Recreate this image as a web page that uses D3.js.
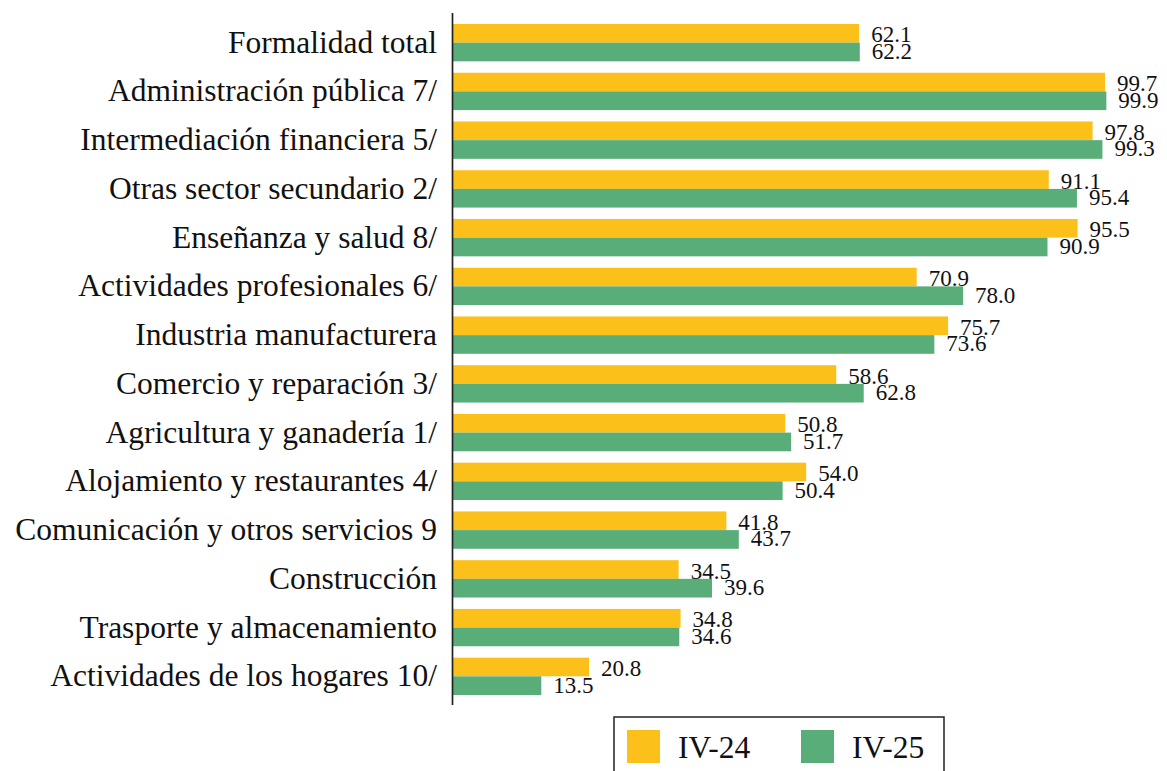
<!DOCTYPE html>
<html>
<head>
<meta charset="utf-8">
<script src="https://cdn.jsdelivr.net/npm/d3@7"></script>
<style>
  body { margin: 0; background: #fff; }
  svg { display: block; font-family: "Liberation Serif", "Times New Roman", serif; }
</style>
</head>
<body>
<div id="chart"></div>
<script>
const categories = [
  "Formalidad total",
  "Administración pública 7/",
  "Intermediación financiera 5/",
  "Otras sector secundario 2/",
  "Enseñanza y salud 8/",
  "Actividades profesionales 6/",
  "Industria manufacturera",
  "Comercio y reparación 3/",
  "Agricultura y ganadería 1/",
  "Alojamiento y restaurantes 4/",
  "Comunicación y otros servicios 9",
  "Construcción",
  "Trasporte y almacenamiento",
  "Actividades de los hogares 10/"
]
const seriesNames = ["IV-24", "IV-25"]
const iv24 = [62.1, 99.7, 97.8, 91.1, 95.5, 70.9, 75.7, 58.6, 50.8, 54.0, 41.8, 34.5, 34.8, 20.8]
const iv25 = [62.2, 99.9, 99.3, 95.4, 90.9, 78.0, 73.6, 62.8, 51.7, 50.4, 43.7, 39.6, 34.6, 13.5]
const colors = ["#FBC11A", "#58AD79"]

const width = 1167, height = 771
const svg = d3.select('#chart').append('svg')
  .attr('width', width)
  .attr('height', height)

const x = d3.scaleLinear().domain([0, 100]).range([453, 1107])
const y = d3.scaleBand().domain(categories).range([18.3, 700.7])
  .paddingInner(0.234).paddingOuter(0.117)
const sub = d3.scaleBand().domain(seriesNames).range([0, y.bandwidth()])

const rows = categories.map((c, i) => ({ cat: c, vals: [iv24[i], iv25[i]] }))

const g = svg.append('g')
rows.forEach(r => {
  r.vals.forEach((v, k) => {
    const yy = y(r.cat) + sub(seriesNames[k])
    g.append('rect')
      .attr('x', x(0))
      .attr('y', yy)
      .attr('width', x(v) - x(0))
      .attr('height', sub.bandwidth())
      .attr('fill', colors[k])
    g.append('text')
      .attr('x', x(v) + 12)
      .attr('y', yy + sub.bandwidth() / 2 + (k === 0 ? 9 : 7))
      .attr('font-size', 23)
      .attr('fill', '#111')
      .text(v.toFixed(1))
  })
})

// category labels
svg.append('g').selectAll('text')
  .data(categories)
  .join('text')
  .attr('x', 437)
  .attr('y', d => y(d) + y.bandwidth() / 2 + 10)
  .attr('text-anchor', 'end')
  .attr('font-size', 31.5)
  .attr('fill', '#111')
  .text(d => d)

// axis line
svg.append('line')
  .attr('x1', 452.5).attr('x2', 452.5)
  .attr('y1', 13).attr('y2', 705)
  .attr('stroke', '#222')
  .attr('stroke-width', 1.7)

// legend
const lg = svg.append('g')
lg.append('rect')
  .attr('x', 614).attr('y', 717)
  .attr('width', 330).attr('height', 80)
  .attr('fill', 'none')
  .attr('stroke', '#222')
  .attr('stroke-width', 1.5)
const legX = [627, 801]
seriesNames.forEach((s, k) => {
  lg.append('rect')
    .attr('x', legX[k]).attr('y', 730)
    .attr('width', 33).attr('height', 33)
    .attr('fill', colors[k])
  lg.append('text')
    .attr('x', legX[k] + 51)
    .attr('y', 758)
    .attr('font-size', 31.5)
    .attr('fill', '#111')
    .text(s)
})
</script>
</body>
</html>
